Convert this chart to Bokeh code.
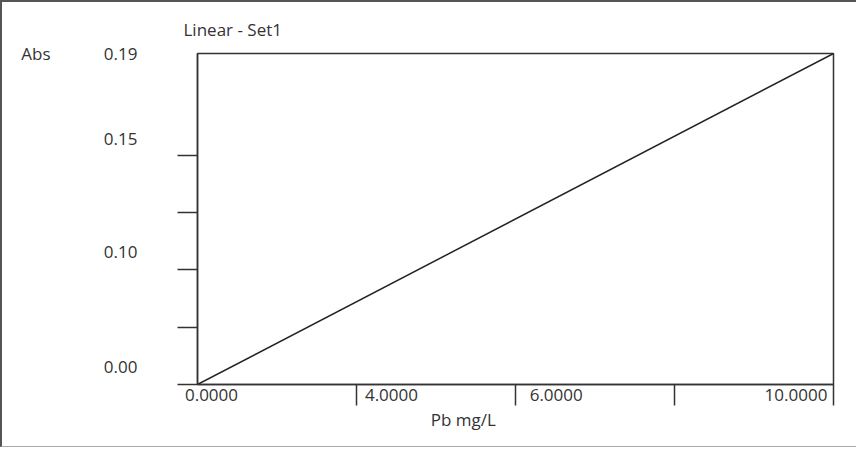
from bokeh.plotting import figure
from bokeh.models import Range1d, FixedTicker, LinearAxis
from bokeh.embed import file_html
from bokeh.resources import INLINE

# data
conc = [0.0, 10.0]          # Pb mg/L (fit line ends)
absorb = [0.0, 0.19]        # Abs
x_tick_marks = [2.5, 5.0, 7.5, 10.0]
x_label_pos = [0.22, 3.05, 5.64, 9.41]
x_label_txt = ["0.0000", "4.0000", "6.0000", "10.0000"]
y_tick_marks = [0.0, 0.0329, 0.0658, 0.0988, 0.1317]
y_label_pos = [0.0102, 0.0762, 0.1412, 0.19]
y_label_txt = ["0.00", "0.10", "0.15", "0.19"]
x_title, x_title_pos = "Pb mg/L", 4.18
y_title, y_title_pos = "Abs", 0.19

FONT = "Open Sans"
FS = "17px"
TXT = "#333333"
LINE = "#333333"

p = figure(width=856, height=444, output_backend="svg", toolbar_location=None,
           x_range=Range1d(0, 10), y_range=Range1d(0, 0.19),
           frame_width=636, frame_height=331,
           min_border_left=195, min_border_top=50, min_border_right=25, min_border_bottom=62,
           title="Linear - Set1")
p.styles = {"border-left": "2px solid #555", "border-top": "2px solid #555",
            "border-bottom": "1px solid #aaa"}
p.grid.visible = False
p.outline_line_color = LINE
p.outline_line_width = 1.5
p.background_fill_color = "white"
p.border_fill_color = "white"

p.title.text_font = FONT
p.title.text_font_size = FS
p.title.text_font_style = "normal"
p.title.text_color = TXT
p.title.offset = -14
p.title.standoff = 26

xa = p.xaxis[0]
xa.ticker = FixedTicker(ticks=x_label_pos, minor_ticks=x_tick_marks)
xa.major_label_overrides = {v: t for v, t in zip(x_label_pos, x_label_txt)}
xa.major_tick_out = 0
xa.major_tick_in = 0
xa.minor_tick_out = 21
xa.minor_tick_in = 0
xa.minor_tick_line_color = LINE
xa.minor_tick_line_width = 1.5
xa.axis_line_color = LINE
xa.axis_line_width = 1.5
xa.major_label_standoff = -17
xa.major_label_text_font = FONT
xa.major_label_text_font_size = FS
xa.major_label_text_color = TXT

ya = p.yaxis[0]
ya.ticker = FixedTicker(ticks=y_label_pos, minor_ticks=y_tick_marks)
ya.major_label_overrides = {v: t for v, t in zip(y_label_pos, y_label_txt)}
ya.major_tick_out = 0
ya.major_tick_in = 0
ya.minor_tick_out = 20
ya.minor_tick_in = 0
ya.minor_tick_line_color = LINE
ya.minor_tick_line_width = 1.5
ya.axis_line_color = LINE
ya.axis_line_width = 1.5
ya.major_label_standoff = 40
ya.major_label_text_font = FONT
ya.major_label_text_font_size = FS
ya.major_label_text_color = TXT


def name_axis(ticks, labels, standoff):
    ax = LinearAxis(ticker=FixedTicker(ticks=ticks, minor_ticks=[]),
                    major_label_overrides={ticks[0]: labels[0]})
    ax.axis_line_color = None
    ax.major_tick_line_color = None
    ax.minor_tick_line_color = None
    ax.major_tick_out = 0
    ax.major_tick_in = 0
    ax.major_label_standoff = standoff
    ax.major_label_text_font = FONT
    ax.major_label_text_font_size = FS
    ax.major_label_text_color = TXT
    return ax


p.add_layout(name_axis([x_title_pos], [x_title], 4), "below")
p.add_layout(name_axis([y_title_pos], [y_title], 50), "left")

p.line(conc, absorb, line_color="#222222", line_width=1.5)

open("out.html", "w").write(file_html(p, INLINE))
